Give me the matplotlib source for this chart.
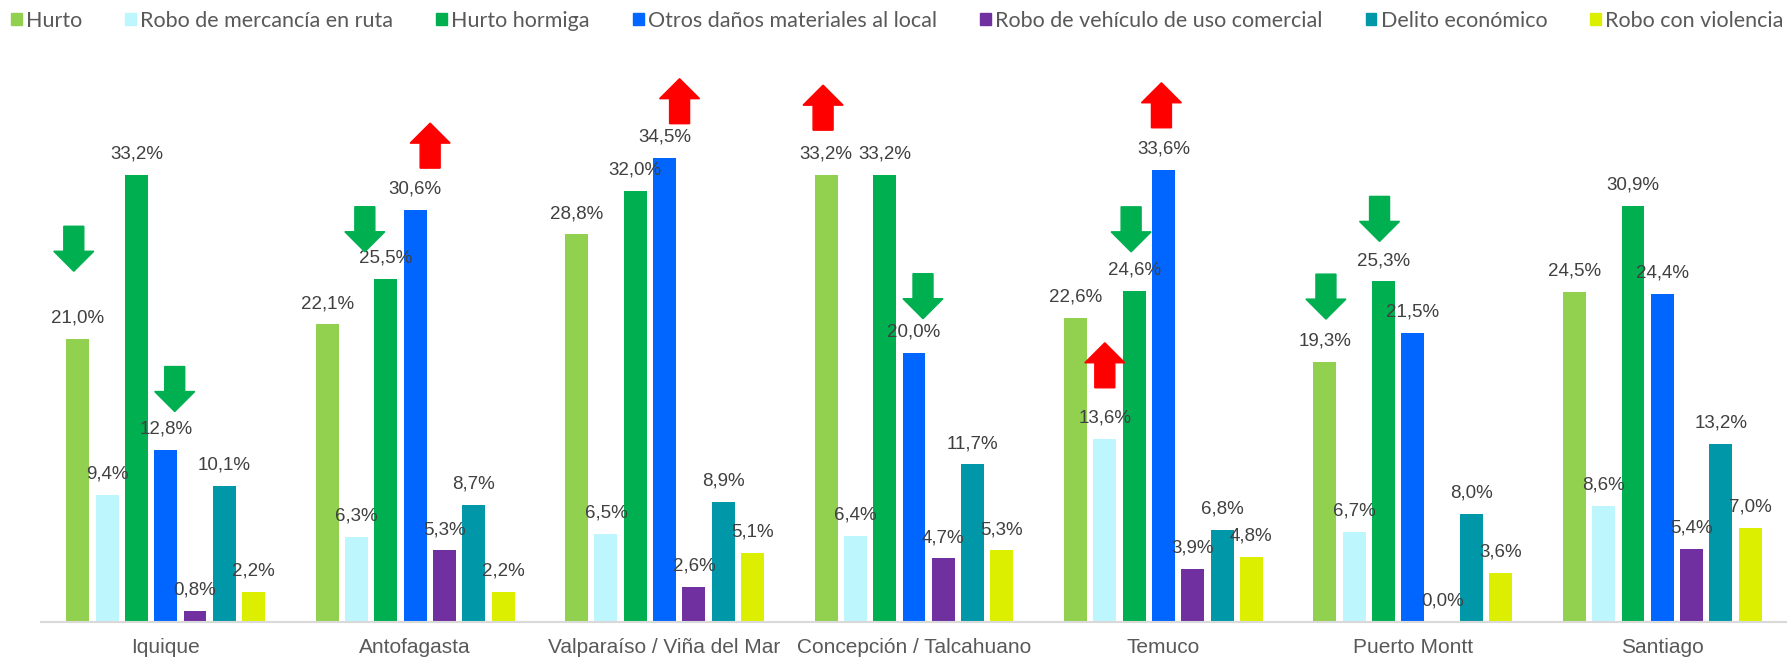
import numpy as np
import matplotlib
matplotlib.use('Agg')
from matplotlib import pyplot as plt
from matplotlib.patches import Patch, Polygon
import matplotlib.transforms as mtransforms

# datos
ciudades = ['Iquique', 'Antofagasta', 'Valparaíso / Viña del Mar', 'Concepción / Talcahuano',
            'Temuco', 'Puerto Montt', 'Santiago']
series = ['Hurto', 'Robo de mercancía en ruta', 'Hurto hormiga', 'Otros daños materiales al local',
          'Robo de vehículo de uso comercial', 'Delito económico', 'Robo con violencia']
colores = ['#92D050', '#BDF6FC', '#00B050', '#0066FF', '#7030A0', '#0098A8', '#DCEF00']

hurto = [21.0, 22.1, 28.8, 33.2, 22.6, 19.3, 24.5]
robo_mercancia = [9.4, 6.3, 6.5, 6.4, 13.6, 6.7, 8.6]
hurto_hormiga = [33.2, 25.5, 32.0, 33.2, 24.6, 25.3, 30.9]
otros_danos = [12.8, 30.6, 34.5, 20.0, 33.6, 21.5, 24.4]
robo_vehiculo = [0.8, 5.3, 2.6, 4.7, 3.9, 0.0, 5.4]
delito_economico = [10.1, 8.7, 8.9, 11.7, 6.8, 8.0, 13.2]
robo_violencia = [2.2, 2.2, 5.1, 5.3, 4.8, 3.6, 7.0]
valores = [hurto, robo_mercancia, hurto_hormiga, otros_danos, robo_vehiculo, delito_economico, robo_violencia]

# flechas: (ciudad, serie, direccion, dx px, separacion px)
flechas = [(0, 0, 'down', -4, 68), (0, 3, 'down', 9, 38),
           (1, 2, 'down', -21, 27), (1, 3, 'up', 15, 42),
           (2, 3, 'up', 15, 34),
           (3, 0, 'up', -3, 45), (3, 3, 'down', 9, 34),
           (4, 1, 'up', 0, 51), (4, 2, 'down', -3, 39), (4, 3, 'up', -2, 42),
           (5, 0, 'down', 1, 43), (5, 2, 'down', -4, 40)]

W, H = 1787, 657
fig = plt.figure(figsize=(W / 100, H / 100), dpi=100)
ax = fig.add_axes([41 / W, 35.3 / H, 1746 / W, (621.7 - 60) / H])

paso = 0.1175
ancho = 0.092
x = np.arange(len(ciudades))
for i, (nombre, vals, c) in enumerate(zip(series, valores, colores)):
    pos = x + (i - 3) * paso
    ax.bar(pos, vals, ancho, color=c, label=nombre, zorder=2)
    for xp, v in zip(pos, vals):
        ax.annotate(f'{v:.1f}%'.replace('.', ','), (xp, v), xytext=(0, 15), textcoords='offset points',
                    ha='center', va='center', fontsize=13.5, color='#404040', family='Liberation Sans', zorder=3)

ax.set_xlim(-0.5, len(ciudades) - 0.5)
ax.set_ylim(0, (621.7 - 60) / 13.45)

# flechas en pixeles
abajo = [(0, 0), (20, 20), (10, 20), (10, 45), (-10, 45), (-10, 20), (-20, 20)]
arriba = [(-10, 0), (10, 0), (10, 25), (20, 25), (0, 45), (-20, 25), (-10, 25)]
for ci, si, d, dx, sep in flechas:
    xb = x[ci] + (si - 3) * paso
    vb = valores[si][ci]
    verts = np.array(abajo if d == 'down' else arriba, dtype=float)
    verts[:, 0] += dx
    verts[:, 1] += sep
    tr = mtransforms.Affine2D() + mtransforms.ScaledTranslation(xb, vb, ax.transData)
    ax.add_patch(Polygon(verts, closed=True, color='#00B050' if d == 'down' else '#FF0000',
                         transform=tr, clip_on=False, zorder=4))

for s in ['left', 'right', 'top']:
    ax.spines[s].set_visible(False)
ax.spines['bottom'].set_color('#D9D9D9')
ax.spines['bottom'].set_linewidth(1.5)
ax.set_yticks([])
ax.set_xticks(x)
ax.set_xticklabels(ciudades, fontsize=15, color='#595959', family='Liberation Sans')
ax.tick_params(axis='x', length=0, pad=12)

handles = [Patch(color=c, label=n) for n, c in zip(series, colores)]
fig.legend(handles=handles, loc='upper left', bbox_to_anchor=(0.0, 1.0), ncol=7, frameon=False,
           prop={'family': 'Lato', 'size': 15.5}, labelcolor='#595959',
           handlelength=0.5, handleheight=0.5, handletextpad=0.2, columnspacing=2.0,
           borderaxespad=0.3, borderpad=0.2)

fig.savefig('out.png', dpi=100)
